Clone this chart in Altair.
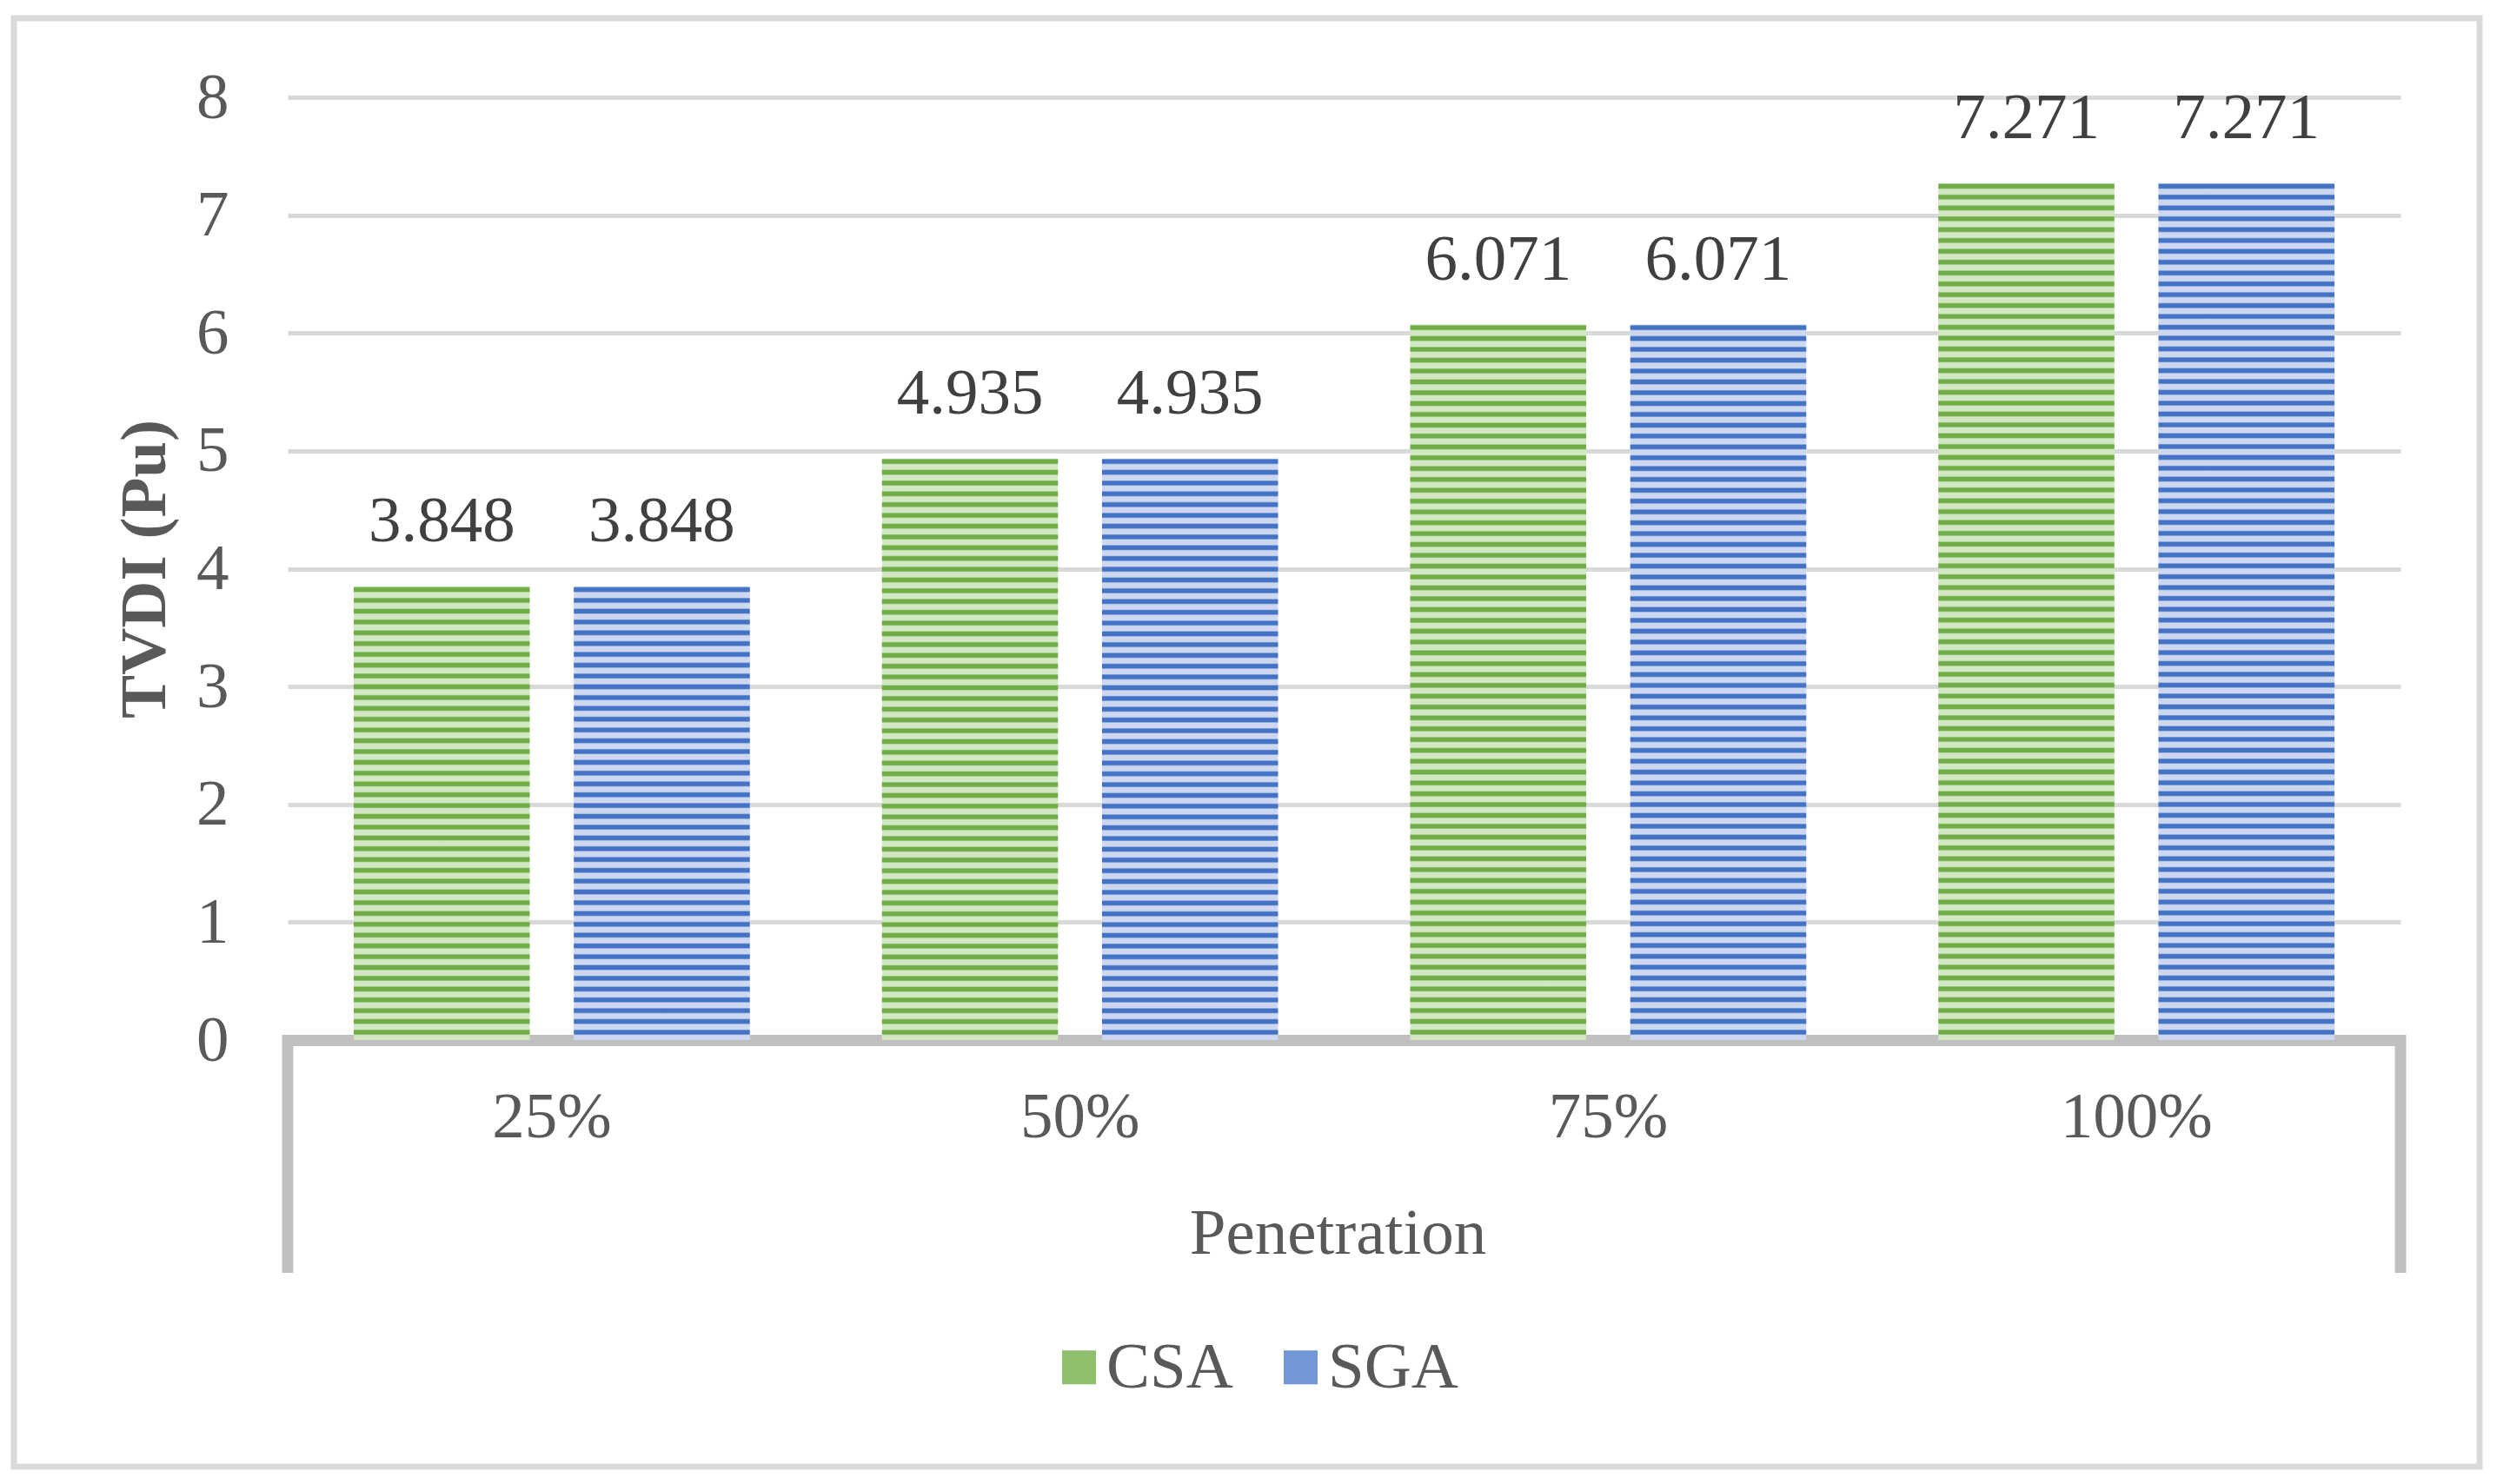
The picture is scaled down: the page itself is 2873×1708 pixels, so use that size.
import altair as alt
import pandas as pd

# ---------------- data ----------------
categories = ["25%", "50%", "75%", "100%"]
series = ["CSA", "SGA"]
csa_values = [3.848, 4.935, 6.071, 7.271]
sga_values = [3.848, 4.935, 6.071, 7.271]
y_ticks = [0, 1, 2, 3, 4, 5, 6, 7, 8]

rows = []
for c, v in zip(categories, csa_values):
    rows.append({"Penetration": c, "Series": "CSA", "TVDI": v})
for c, v in zip(categories, sga_values):
    rows.append({"Penetration": c, "Series": "SGA", "TVDI": v})
df = pd.DataFrame(rows)
one = pd.DataFrame({"k": [0]})

# ---------------- style ----------------
W, H = 2431, 1085
YMAX = 8
FONT = "Liberation Serif"
FS = 75
TXT = "#595959"
dark = {"CSA": "#70ad47", "SGA": "#4472c4"}
light = {"CSA": "#d2e7c4", "SGA": "#cdd8f0"}
legend_cols = ["#8fc06d", "#7397d6"]


def stripes(s, value):
    h = value / YMAX * H
    n = max(1, round(h / 12.5))
    p = h / n
    stops = []
    for k in range(n):
        t0 = k * p
        for dt, col in [(0.0, light[s]), (1.5, dark[s]), (5.5, dark[s]), (7.0, light[s])]:
            stops.append(alt.GradientStop(color=col, offset=round(min(1.0, (t0 + dt) / h), 6)))
    stops.append(alt.GradientStop(color=light[s], offset=1.0))
    return alt.LinearGradient(gradient="linear", stops=stops, x1=0, x2=0, y1=0, y2=1)


x_enc = alt.X(
    "Penetration:N",
    sort=categories,
    scale=alt.Scale(paddingInner=0.25, paddingOuter=0.125),
    axis=alt.Axis(
        title="Penetration",
        labelAngle=0,
        labelFont=FONT,
        labelFontSize=FS,
        labelColor=TXT,
        labelBaseline="alphabetic",
        labelPadding=111,
        ticks=False,
        tickSize=0,
        domain=True,
        domainColor="#bfbfbf",
        domainWidth=13,
        domainCap="butt",
        grid=False,
        titleFont=FONT,
        titleFontSize=FS,
        titleFontWeight="normal",
        titleColor=TXT,
        titleBaseline="alphabetic",
        titleAlign="center",
        titleX=1208,
        titleY=245,
    ),
)
xoff = alt.XOffset("Series:N", sort=series, scale=alt.Scale(paddingInner=0.2, paddingOuter=0))
y_enc = alt.Y(
    "TVDI:Q",
    scale=alt.Scale(domain=[0, YMAX], nice=False),
    axis=alt.Axis(
        title="TVDI (Pu)",
        values=y_ticks,
        format="d",
        labelFont=FONT,
        labelFontSize=FS,
        labelColor=TXT,
        labelPadding=68,
        ticks=False,
        tickSize=0,
        domain=False,
        grid=True,
        gridColor="#d9d9d9",
        gridWidth=5,
        titleFont=FONT,
        titleFontSize=FS,
        titleFontWeight="bold",
        titleColor=TXT,
        titleBaseline="alphabetic",
        titleAngle=270,
        titleX=-142,
        titleY=H / 2,
    ),
)

layers = []

# outer chart border
layers.append(
    alt.Chart(one)
    .mark_rect(fillOpacity=0, stroke="#d9d9d9", strokeWidth=7)
    .encode(x=alt.value(-315), x2=alt.value(2522), y=alt.value(-91), y2=alt.value(1576))
)

# striped bars, one layer per bar
for s in series:
    vals = csa_values if s == "CSA" else sga_values
    for c, v in zip(categories, vals):
        layers.append(
            alt.Chart(df)
            .transform_filter((alt.datum.Series == s) & (alt.datum.Penetration == c))
            .mark_bar(fill=stripes(s, v), strokeWidth=0)
            .encode(x=x_enc, xOffset=xoff, y=y_enc)
        )

# data labels
layers.append(
    alt.Chart(df)
    .mark_text(baseline="alphabetic", dy=-52, fontSize=FS, font=FONT, color="#404040")
    .encode(x=x_enc, xOffset=xoff, y=y_enc, text=alt.Text("TVDI:Q", format=".3f"))
)

# legend carrier (invisible marks)
layers.append(
    alt.Chart(df)
    .mark_square(opacity=0)
    .encode(
        x=x_enc,
        xOffset=xoff,
        y=y_enc,
        color=alt.Color(
            "Series:N",
            sort=series,
            scale=alt.Scale(domain=series, range=legend_cols),
            legend=alt.Legend(
                title=None,
                orient="none",
                direction="horizontal",
                legendX=873,
                legendY=1424,
                symbolType="square",
                symbolSize=1521,
                symbolOpacity=1,
                symbolStrokeWidth=0,
                labelFont=FONT,
                labelFontSize=FS,
                labelColor=TXT,
                labelOffset={"expr": "-6"},
                columnPadding=40,
                padding=0,
            ),
        ),
    )
)

# category box verticals (Excel-style axis frame)
for xv in [0, W]:
    layers.append(
        alt.Chart(one)
        .mark_rule(color="#bfbfbf", strokeWidth=13, strokeCap="butt")
        .encode(x=alt.value(xv), y=alt.value(H - 6), y2=alt.value(1353))
    )

chart = (
    alt.layer(*layers)
    .properties(
        width=W,
        height=H,
        autosize=alt.AutoSizeParams(type="none"),
        padding={"left": 323, "top": 104, "right": 100, "bottom": 505},
        background="white",
    )
    .configure_view(strokeWidth=0)
)

chart.save("out.html", embed_options={"renderer": "svg", "actions": False})
